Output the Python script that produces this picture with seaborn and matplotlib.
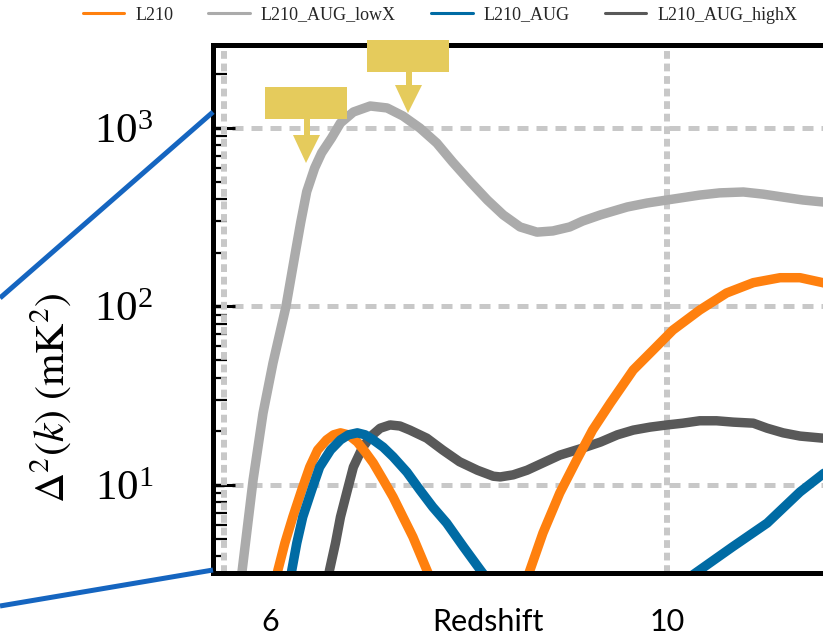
import numpy as np
import pandas as pd
import matplotlib
matplotlib.use("Agg")
import matplotlib.pyplot as plt
import seaborn as sns
from matplotlib.lines import Line2D
from matplotlib.patches import Polygon
from matplotlib.ticker import LogLocator, NullFormatter, LogFormatterSciNotation

# ---------------- data ----------------
series_names = ["L210", "L210_AUG_lowX", "L210_AUG", "L210_AUG_highX"]
series_colors = ["#FF800E", "#ABABAB", "#006BA4", "#595959"]

z_L210 = [5.99, 6.08, 6.15, 6.23, 6.32, 6.40, 6.48, 6.57, 6.64, 6.71, 6.79, 6.88, 6.96, 7.04,
          7.14, 7.24, 7.34, 7.44, 7.58, 7.75, 8.10, 8.48, 8.62, 8.75, 8.92, 9.09, 9.25, 9.43,
          9.66, 9.86, 10.06, 10.33, 10.60, 10.87, 11.14, 11.34, 11.57, 11.80]
p_L210 = [2.0, 3.34, 4.73, 6.62, 9.38, 12.6, 15.7, 17.9, 19.1, 19.6, 19.1, 17.4, 15.3, 13.3,
          10.7, 8.57, 6.62, 5.12, 3.34, 2.0, 1.2, 2.0, 3.34, 5.38, 9.02, 13.8, 20.3, 28.8,
          44.1, 57.0, 73.8, 95.5, 119, 136, 145, 145, 136, 124]

z_lowX = [5.67, 5.72, 5.83, 5.93, 6.03, 6.16, 6.26, 6.31, 6.37, 6.45, 6.52, 6.62, 6.71, 6.84,
          7.01, 7.18, 7.34, 7.51, 7.68, 7.84, 8.02, 8.19, 8.35, 8.52, 8.69, 8.85, 9.02, 9.15,
          9.33, 9.60, 9.80, 10.00, 10.33, 10.53, 10.77, 10.97, 11.17, 11.37, 11.57, 11.80]
p_lowX = [2.13, 3.34, 10.7, 25.3, 48.2, 99.4, 207, 297, 440, 597, 725, 879, 1067, 1229,
          1328, 1295, 1167, 1000, 824, 645, 498, 395, 326, 279, 261, 265, 279, 301,
          326, 361, 380, 395, 421, 433, 438, 426, 410, 395, 385, 375]

z_AUG = [6.15, 6.22, 6.27, 6.33, 6.42, 6.50, 6.61, 6.71, 6.79, 6.88, 6.96, 7.04, 7.14, 7.24,
         7.38, 7.51, 7.64, 7.78, 7.95, 8.12, 8.42, 9.20, 9.76, 10.33, 10.66, 11.01, 11.34,
         11.57, 11.80]
p_AUG = [2.0, 3.34, 4.73, 6.62, 9.38, 12.6, 15.7, 17.9, 19.1, 19.6, 19.1, 17.9, 16.3, 14.4,
         11.8, 9.38, 7.53, 6.12, 4.50, 3.34, 2.0, 0.9, 2.0, 3.34, 4.50, 6.12, 9.14,
         11.5, 14.5]

z_highX = [6.53, 6.60, 6.66, 6.71, 6.78, 6.84, 6.93, 7.01, 7.11, 7.21, 7.31, 7.41, 7.58, 7.74,
           7.91, 8.09, 8.25, 8.32, 8.45, 8.59, 8.75, 8.92, 9.15, 9.33, 9.50, 9.66, 9.83,
           10.00, 10.16, 10.33, 10.50, 10.67, 10.87, 11.01, 11.17, 11.34, 11.57, 11.80]
p_highX = [2.0, 3.34, 4.73, 6.62, 9.38, 12.6, 16.1, 18.6, 20.8, 21.7, 21.4, 20.3, 18.3, 15.7,
           13.5, 12.1, 11.2, 11.1, 11.4, 12.1, 13.3, 14.7, 16.1, 17.4, 19.1, 20.3, 21.1,
           21.7, 22.2, 22.9, 22.9, 22.5, 22.2, 20.8, 19.6, 18.8, 18.3, 18.0]

x_tick_values = [6, 10]
x_tick_labels = ["6", "10"]
x_grid_values = [5.54, 10.0]
x_label = "Redshift"
y_label = r"$\Delta^2(k)\ (\mathrm{mK}^2)$"

series_z = {"L210": z_L210, "L210_AUG_lowX": z_lowX, "L210_AUG": z_AUG, "L210_AUG_highX": z_highX}
series_p = {"L210": p_L210, "L210_AUG_lowX": p_lowX, "L210_AUG": p_AUG, "L210_AUG_highX": p_highX}

df = pd.concat(
    [pd.DataFrame({"z": series_z[n], "power": series_p[n], "series": n}) for n in series_names],
    ignore_index=True,
)
palette = dict(zip(series_names, series_colors))

# ---------------- styling ----------------
sns.set_theme(style="white")
plt.rcParams["font.family"] = ["Liberation Serif", "DejaVu Serif"]
plt.rcParams["mathtext.fontset"] = "stix"

W, H = 823, 637
fig = plt.figure(figsize=(W / 100, H / 100), dpi=100)
fig.patch.set_facecolor("white")


def fx(px):
    return px / W


def fy(py):
    return 1 - py / H


ax = fig.add_axes([fx(213), fy(573), 687 / W, 528 / H])
ax.set_facecolor("white")

LINE_W = 6.8
draw_order = ["L210_AUG_lowX", "L210_AUG_highX", "L210", "L210_AUG"]
for i, name in enumerate(draw_order):
    sns.lineplot(
        data=df[df["series"] == name], x="z", y="power", color=palette[name],
        estimator=None, sort=False, legend=False, ax=ax, zorder=3 + i, linewidth=LINE_W,
    )
for ln in ax.get_lines():
    ln.set_linewidth(LINE_W)
    ln.set_solid_joinstyle("round")
    ln.set_solid_capstyle("round")

ax.set_yscale("log")
ax.set_xlim(5.4257, 12.348)
ax.set_ylim(3.214, 2917)

# grid
ax.grid(False)
ax.yaxis.grid(True, which="major", color="#C8C8C8", linewidth=3.6, linestyle=(0, (2.2, 1.6)), zorder=1)
for gx in x_grid_values:
    ax.axvline(gx, color="#C8C8C8", linewidth=4.3, linestyle=(0, (1.3, 0.8)), zorder=1)
ax.set_axisbelow(True)

# spines
for s in ["left", "top", "bottom", "right"]:
    ax.spines[s].set_linewidth(3.6)
    ax.spines[s].set_color("black")
    ax.spines[s].set_zorder(10)

# y ticks
ax.yaxis.set_major_locator(LogLocator(base=10))
ax.yaxis.set_major_formatter(LogFormatterSciNotation())
ax.yaxis.set_minor_locator(LogLocator(base=10, subs=np.arange(2, 10)))
ax.yaxis.set_minor_formatter(NullFormatter())
ax.tick_params(axis="y", which="major", direction="in", length=16, width=2.2, pad=43,
               labelsize=31, colors="black", left=True, right=False)
ax.tick_params(axis="y", which="minor", direction="in", length=10, width=1.6,
               colors="black", left=True, right=False)
ax.set_ylabel("")

# x ticks and label
ax.set_xticks(x_tick_values)
ax.set_xticklabels(x_tick_labels, fontfamily="Lato", fontsize=22)
ax.tick_params(axis="x", which="both", length=0, pad=25, colors="black")
ax.set_xlabel(x_label, fontfamily="Lato", fontsize=22, color="black")
ax.xaxis.set_label_coords((488 - 213) / 687, -0.066)
ax.xaxis.label.set_va("top")

# y label
fig.text(fx(51), fy(398), y_label, rotation=90, ha="center", va="center", fontsize=30, color="black")

# legend
handles = [Line2D([], [], color=palette[n], linewidth=2.2) for n in series_names]
fig.legend(handles, series_names, loc="center", bbox_to_anchor=(fx(440), fy(15)), ncol=4,
           frameon=False, fontsize=13, handlelength=2.3, handletextpad=0.6, columnspacing=1.95)

# zoom callout lines
callout_lines = [((213, 112), (0, 298)), ((213, 570), (0, 606))]
for (x0, y0), (x1, y1) in callout_lines:
    fig.add_artist(Line2D([fx(x0), fx(x1)], [fy(y0), fy(y1)], transform=fig.transFigure,
                          color="#1565C0", linewidth=3.6, solid_capstyle="butt", zorder=20))

# yellow box-arrows
arrow_shapes = [
    [(265, 87), (347, 87), (347, 119), (310, 119), (310, 135), (320, 135), (306, 163),
     (293, 135), (304, 135), (304, 119), (265, 119)],
    [(367, 40), (449, 40), (449, 72), (412, 72), (412, 85), (422, 85), (408, 113),
     (395, 85), (406, 85), (406, 72), (367, 72)],
]
for shape in arrow_shapes:
    fig.add_artist(Polygon([(fx(a), fy(b)) for a, b in shape], closed=True, transform=fig.transFigure,
                           facecolor="#E5CB5C", edgecolor="none", zorder=25))

fig.savefig("out.png", dpi=100)
